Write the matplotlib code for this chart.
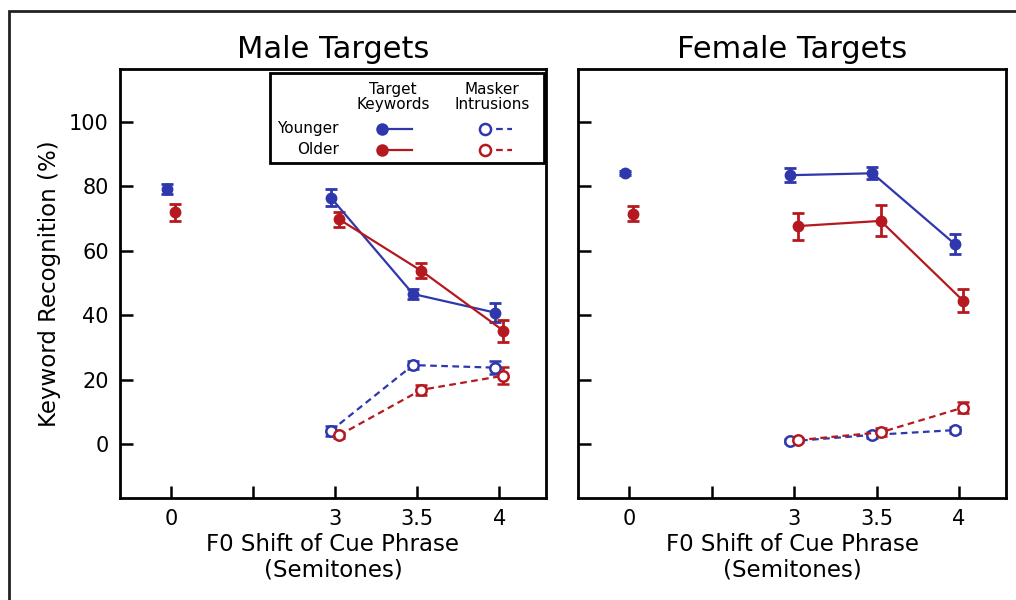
import matplotlib.pyplot as plt
import numpy as np
from matplotlib.lines import Line2D
from matplotlib.patches import Rectangle

# Category positions: 0, (unlabelled gap), 3, 3.5, 4 semitones
tick_pos = [0, 1, 2, 3, 4]
tick_labels = ['0', '', '3', '3.5', '4']
shift_pos = [2, 3, 4]

# Male targets
male_young_base = 79.3
male_young_base_err = 1.5
male_old_base = 72.0
male_old_base_err = 2.7
male_young_kw = [76.5, 46.6, 40.8]
male_young_kw_err = [2.6, 1.6, 2.9]
male_old_kw = [69.8, 53.8, 35.2]
male_old_kw_err = [2.3, 2.3, 3.4]
male_young_mi = [4.1, 24.5, 23.7]
male_young_mi_err = [1.5, 1.3, 2.1]
male_old_mi = [2.7, 16.8, 21.2]
male_old_mi_err = [0.8, 1.5, 2.7]

# Female targets
female_young_base = 84.3
female_young_base_err = 0.6
female_old_base = 71.6
female_old_base_err = 2.4
female_young_kw = [83.5, 84.1, 62.1]
female_young_kw_err = [2.2, 1.8, 3.1]
female_old_kw = [67.7, 69.3, 44.5]
female_old_kw_err = [4.2, 4.8, 3.5]
female_young_mi = [0.8, 2.8, 4.3]
female_young_mi_err = [0.6, 1.0, 1.0]
female_old_mi = [1.2, 3.6, 11.3]
female_old_mi_err = [0.6, 1.2, 1.7]

BLUE = '#2f37ad'
RED = '#b5191f'
off = 0.05

fig = plt.figure(figsize=(10.16, 6), dpi=100)
# outer frame (only top and left edges fall inside the image)
fig.add_artist(Rectangle((9 / 1016, -0.2), 1.2, 1.2 - 11 / 600,
                         transform=fig.transFigure, fill=False,
                         edgecolor='#222222', linewidth=2))

ax1 = fig.add_axes([120 / 1016, 102 / 600, 426 / 1016, 429 / 600])
ax2 = fig.add_axes([578 / 1016, 102 / 600, 428 / 1016, 429 / 600])


def draw_panel(ax, title, yb, yb_err, ob, ob_err, ykw, ykw_err, okw, okw_err,
               ymi, ymi_err, omi, omi_err):
    eb = dict(capsize=4, elinewidth=2, capthick=2, markersize=7.5)
    xs_y = np.array(shift_pos) - off
    xs_o = np.array(shift_pos) + off
    # baseline (no cue shift)
    ax.errorbar([0 - off], [yb], yerr=[yb_err], fmt='o', color=BLUE, **eb)
    ax.errorbar([0 + off], [ob], yerr=[ob_err], fmt='o', color=RED, **eb)
    # target keywords
    ax.errorbar(xs_y, ykw, yerr=ykw_err, fmt='o-', color=BLUE, lw=1.6, **eb)
    ax.errorbar(xs_o, okw, yerr=okw_err, fmt='o-', color=RED, lw=1.6, **eb)
    # masker intrusions
    ax.errorbar(xs_y, ymi, yerr=ymi_err, fmt='o--', color=BLUE, lw=1.6,
                mfc='white', mew=1.8, dashes=(3, 2), **eb)
    ax.errorbar(xs_o, omi, yerr=omi_err, fmt='o--', color=RED, lw=1.6,
                mfc='white', mew=1.8, dashes=(3, 2), **eb)

    ax.set_xlim(-0.62, 4.57)
    ax.set_ylim(-16.8, 116.5)
    ax.set_xticks(tick_pos)
    ax.set_xticklabels(tick_labels)
    ax.set_yticks([0, 20, 40, 60, 80, 100])
    ax.tick_params(direction='in', length=9, width=1.8, labelsize=15, pad=8)
    for s in ax.spines.values():
        s.set_linewidth(2)
    ax.set_title(title, fontsize=22, pad=8)
    ax.set_xlabel('F0 Shift of Cue Phrase\n(Semitones)', fontsize=16.5,
                  labelpad=3, linespacing=1.15)


draw_panel(ax1, 'Male Targets', male_young_base, male_young_base_err,
           male_old_base, male_old_base_err, male_young_kw, male_young_kw_err,
           male_old_kw, male_old_kw_err, male_young_mi, male_young_mi_err,
           male_old_mi, male_old_mi_err)
draw_panel(ax2, 'Female Targets', female_young_base, female_young_base_err,
           female_old_base, female_old_base_err, female_young_kw,
           female_young_kw_err, female_old_kw, female_old_kw_err,
           female_young_mi, female_young_mi_err, female_old_mi,
           female_old_mi_err)
ax1.set_ylabel('Keyword Recognition (%)', fontsize=16.5, labelpad=6)
ax2.set_yticklabels([])


# hand-built legend box, placed by picture pixels inside the left panel
def ax_xy(px, py):
    return (px - 120) / 426, (498 - py) / 429


lx0, ly0 = ax_xy(270, 163)
lx1, ly1 = ax_xy(544, 73)
ax1.add_patch(Rectangle((lx0, ly0), lx1 - lx0, ly1 - ly0, transform=ax1.transAxes,
                        fill=True, facecolor='white', edgecolor='black',
                        linewidth=2, zorder=5))
tx, ty = ax_xy(393, 97)
ax1.text(tx, ty, 'Target\nKeywords', transform=ax1.transAxes, ha='center',
         va='center', fontsize=11, linespacing=1.0, zorder=6)
tx, ty = ax_xy(492, 97)
ax1.text(tx, ty, 'Masker\nIntrusions', transform=ax1.transAxes, ha='center',
         va='center', fontsize=11, linespacing=1.0, zorder=6)
for name, py, col in [('Younger', 129, BLUE), ('Older', 150, RED)]:
    tx, ty = ax_xy(339, py)
    ax1.text(tx, ty, name, transform=ax1.transAxes, ha='right', va='center',
             fontsize=11, zorder=6)
    a, b = ax_xy(382, py)
    c, _ = ax_xy(412, py)
    ax1.add_line(Line2D([a, c], [b, b], color=col, lw=1.6, transform=ax1.transAxes, zorder=6))
    ax1.add_line(Line2D([a], [b], marker='o', ms=8, color=col, transform=ax1.transAxes, zorder=7))
    a, _ = ax_xy(485, py)
    c, _ = ax_xy(512, py)
    ax1.add_line(Line2D([a, c], [b, b], color=col, lw=1.6, dashes=(3, 2),
                        transform=ax1.transAxes, zorder=6))
    ax1.add_line(Line2D([a], [b], marker='o', ms=8, color=col, mfc='white', mew=1.8,
                        transform=ax1.transAxes, zorder=7))

fig.savefig('out.png', dpi=100)
